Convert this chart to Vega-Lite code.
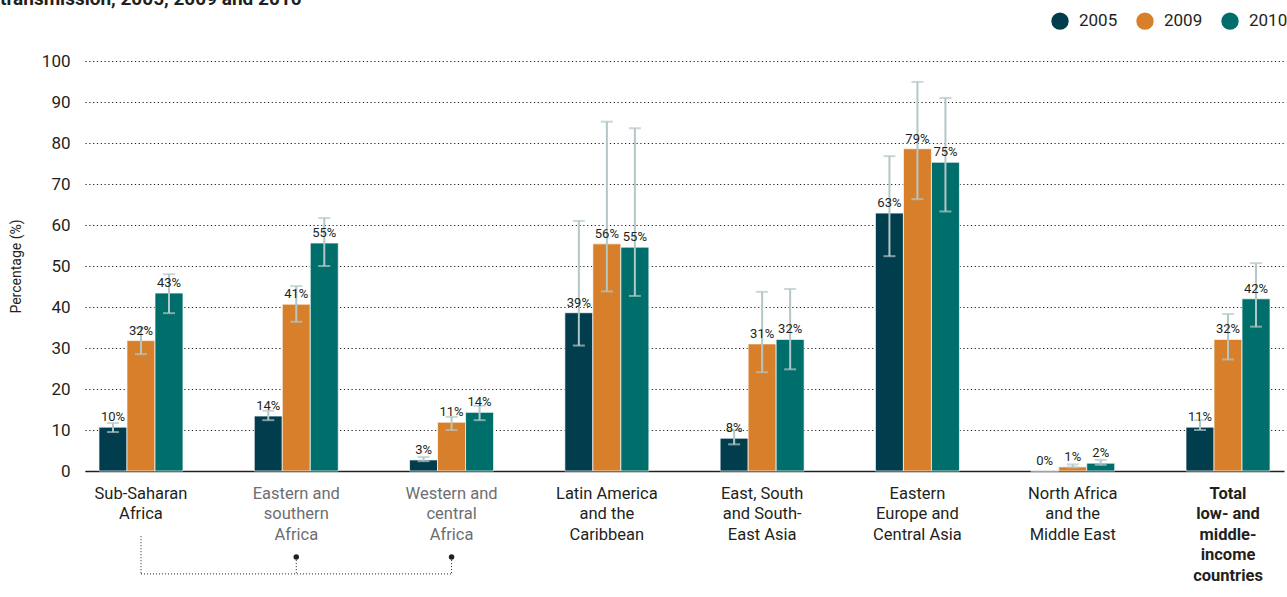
{
  "$schema": "https://vega.github.io/schema/vega-lite/v6.json",
  "width": 1199,
  "height": 410,
  "autosize": {"type": "none"},
  "padding": {"left": 85, "top": 61, "right": 3, "bottom": 126},
  "background": "white",
  "title": {
    "text": "transmission, 2005, 2009 and 2010",
    "anchor": "start",
    "frame": "group",
    "dx": -85,
    "dy": 12,
    "fontSize": 19,
    "fontWeight": "bold",
    "font": "Roboto",
    "color": "#231f20",
    "baseline": "alphabetic",
    "offset": 0
  },
  "config": {
    "view": {"stroke": null},
    "font": "Roboto"
  },
  "datasets": {
    "bars": [
      {"region": "Sub-Saharan|Africa", "year": "2005", "value": 10.7, "lo": 9.5, "hi": 11.7, "label": "10%"},
      {"region": "Sub-Saharan|Africa", "year": "2009", "value": 31.8, "lo": 28.5, "hi": 34.9, "label": "32%"},
      {"region": "Sub-Saharan|Africa", "year": "2010", "value": 43.4, "lo": 38.5, "hi": 48.0, "label": "43%"},
      {"region": "Eastern and|southern|Africa", "year": "2005", "value": 13.4, "lo": 12.4, "hi": 14.7, "label": "14%"},
      {"region": "Eastern and|southern|Africa", "year": "2009", "value": 40.7, "lo": 36.4, "hi": 45.1, "label": "41%"},
      {"region": "Eastern and|southern|Africa", "year": "2010", "value": 55.6, "lo": 50.0, "hi": 61.7, "label": "55%"},
      {"region": "Western and|central|Africa", "year": "2005", "value": 2.7, "lo": 2.4, "hi": 3.4, "label": "3%"},
      {"region": "Western and|central|Africa", "year": "2009", "value": 11.9, "lo": 10.0, "hi": 13.2, "label": "11%"},
      {"region": "Western and|central|Africa", "year": "2010", "value": 14.3, "lo": 12.4, "hi": 15.9, "label": "14%"},
      {"region": "Latin America|and the|Caribbean", "year": "2005", "value": 38.6, "lo": 30.6, "hi": 61.0, "label": "39%"},
      {"region": "Latin America|and the|Caribbean", "year": "2009", "value": 55.4, "lo": 43.8, "hi": 85.2, "label": "56%"},
      {"region": "Latin America|and the|Caribbean", "year": "2010", "value": 54.6, "lo": 42.7, "hi": 83.6, "label": "55%"},
      {"region": "East, South|and South-|East Asia", "year": "2005", "value": 8.0, "lo": 6.5, "hi": 10.0, "label": "8%"},
      {"region": "East, South|and South-|East Asia", "year": "2009", "value": 31.0, "lo": 24.1, "hi": 43.7, "label": "31%"},
      {"region": "East, South|and South-|East Asia", "year": "2010", "value": 32.1, "lo": 24.8, "hi": 44.4, "label": "32%"},
      {"region": "Eastern|Europe and|Central Asia", "year": "2005", "value": 62.9, "lo": 52.4, "hi": 76.8, "label": "63%"},
      {"region": "Eastern|Europe and|Central Asia", "year": "2009", "value": 78.6, "lo": 66.3, "hi": 94.9, "label": "79%"},
      {"region": "Eastern|Europe and|Central Asia", "year": "2010", "value": 75.3, "lo": 63.3, "hi": 91.0, "label": "75%"},
      {"region": "North Africa|and the|Middle East", "year": "2005", "value": 0, "lo": null, "hi": null, "label": "0%"},
      {"region": "North Africa|and the|Middle East", "year": "2009", "value": 1.0, "lo": 0.9, "hi": 1.6, "label": "1%"},
      {"region": "North Africa|and the|Middle East", "year": "2010", "value": 1.9, "lo": 1.5, "hi": 2.7, "label": "2%"},
      {"region": "Total|low- and|middle-|income|countries", "year": "2005", "value": 10.7, "lo": 10.0, "hi": 12.4, "label": "11%"},
      {"region": "Total|low- and|middle-|income|countries", "year": "2009", "value": 32.1, "lo": 27.2, "hi": 38.3, "label": "32%"},
      {"region": "Total|low- and|middle-|income|countries", "year": "2010", "value": 42.0, "lo": 35.2, "hi": 50.7, "label": "42%"}
    ],
    "bracketV": [
      {"region": "Sub-Saharan|Africa", "top": -15.9, "bottom": -25.1},
      {"region": "Eastern and|southern|Africa", "top": -21.0, "bottom": -25.1},
      {"region": "Western and|central|Africa", "top": -21.0, "bottom": -25.1}
    ],
    "bracketH": [
      {"from": "Sub-Saharan|Africa", "to": "Western and|central|Africa", "level": -25.1}
    ],
    "bracketDots": [
      {"region": "Eastern and|southern|Africa", "level": -21.0},
      {"region": "Western and|central|Africa", "level": -21.0}
    ]
  },
  "encoding": {
    "x": {
      "field": "region",
      "type": "nominal",
      "sort": null,
      "scale": {
        "domain": ["Sub-Saharan|Africa", "Eastern and|southern|Africa", "Western and|central|Africa", "Latin America|and the|Caribbean", "East, South|and South-|East Asia", "Eastern|Europe and|Central Asia", "North Africa|and the|Middle East", "Total|low- and|middle-|income|countries"],
        "paddingInner": 0.459,
        "paddingOuter": 0.09
      },
      "axis": {
        "title": null,
        "labelAngle": 0,
        "labelExpr": "split(datum.label, '|')",
        "labelFontSize": 16.5,
        "labelLineHeight": 20.5,
        "labelPadding": 14,
        "labelBaseline": "top",
        "labelColor": {
          "condition": {"test": "indexof(datum.value, 'Eastern and') === 0 || indexof(datum.value, 'Western and') === 0", "value": "#6d6e71"},
          "value": "#231f20"
        },
        "labelFontWeight": {
          "condition": {"test": "indexof(datum.value, 'Total') === 0", "value": "bold"},
          "value": "normal"
        },
        "ticks": false,
        "domainColor": "#231f20",
        "domainWidth": 1.5,
        "grid": false
      }
    }
  },
  "layer": [
    {
      "data": {"name": "bars"},
      "mark": {"type": "bar", "stroke": "white", "strokeWidth": 0.7},
      "encoding": {
        "xOffset": {"field": "year", "type": "nominal", "scale": {"paddingInner": 0, "paddingOuter": 0}},
        "y": {
          "field": "value",
          "type": "quantitative",
          "scale": {"domain": [0, 100], "nice": false},
          "axis": {
            "title": "Percentage (%)",
            "titleFontSize": 14,
            "titleFontWeight": "normal",
            "titleColor": "#231f20",
            "titlePadding": 18,
            "values": [0, 10, 20, 30, 40, 50, 60, 70, 80, 90, 100],
            "labelFontSize": 17,
            "labelColor": "#231f20",
            "labelPadding": 15,
            "ticks": false,
            "domain": false,
            "grid": true,
            "gridColor": "#231f20",
            "gridDash": [1.2, 2.6],
            "gridWidth": 1.1
          }
        },
        "color": {
          "field": "year",
          "type": "nominal",
          "scale": {"domain": ["2005", "2009", "2010"], "range": ["#023d4d", "#d77f2a", "#006f6c"]},
          "legend": {
            "title": null,
            "orient": "none",
            "direction": "horizontal",
            "legendX": 966,
            "legendY": -49,
            "symbolType": "circle",
            "symbolSize": 300,
            "symbolStrokeWidth": 0,
            "labelFontSize": 17,
            "labelColor": "#231f20",
            "labelOffset": 10,
            "columnPadding": 18,
            "padding": 0
          }
        }
      }
    },
    {
      "data": {"name": "bars"},
      "mark": {"type": "rule", "color": "#b3c6c8", "strokeWidth": 2},
      "encoding": {
        "xOffset": {"field": "year", "type": "nominal"},
        "y": {"field": "lo", "type": "quantitative"},
        "y2": {"field": "hi"}
      }
    },
    {
      "data": {"name": "bars"},
      "transform": [{"filter": "datum.lo != null"}],
      "mark": {"type": "tick", "color": "#b3c6c8", "size": 12, "thickness": 2},
      "encoding": {
        "xOffset": {"field": "year", "type": "nominal"},
        "y": {"field": "lo", "type": "quantitative"}
      }
    },
    {
      "data": {"name": "bars"},
      "transform": [{"filter": "datum.hi != null"}],
      "mark": {"type": "tick", "color": "#b3c6c8", "size": 12, "thickness": 2},
      "encoding": {
        "xOffset": {"field": "year", "type": "nominal"},
        "y": {"field": "hi", "type": "quantitative"}
      }
    },
    {
      "data": {"name": "bars"},
      "mark": {"type": "text", "fontSize": 13, "color": "#231f20", "baseline": "alphabetic", "dy": -6},
      "encoding": {
        "xOffset": {"field": "year", "type": "nominal"},
        "y": {"field": "value", "type": "quantitative"},
        "text": {"field": "label"}
      }
    },
    {
      "data": {"name": "bracketV"},
      "mark": {"type": "rule", "color": "#231f20", "strokeWidth": 1, "strokeDash": [1, 2]},
      "encoding": {
        "y": {"field": "top", "type": "quantitative"},
        "y2": {"field": "bottom"}
      }
    },
    {
      "data": {"name": "bracketH"},
      "mark": {"type": "rule", "color": "#231f20", "strokeWidth": 1, "strokeDash": [1, 2]},
      "encoding": {
        "x": {"field": "from", "type": "nominal"},
        "x2": {"field": "to"},
        "y": {"field": "level", "type": "quantitative"}
      }
    },
    {
      "data": {"name": "bracketDots"},
      "mark": {"type": "point", "filled": true, "color": "#231f20", "size": 30, "opacity": 1},
      "encoding": {
        "y": {"field": "level", "type": "quantitative"}
      }
    }
  ]
}
